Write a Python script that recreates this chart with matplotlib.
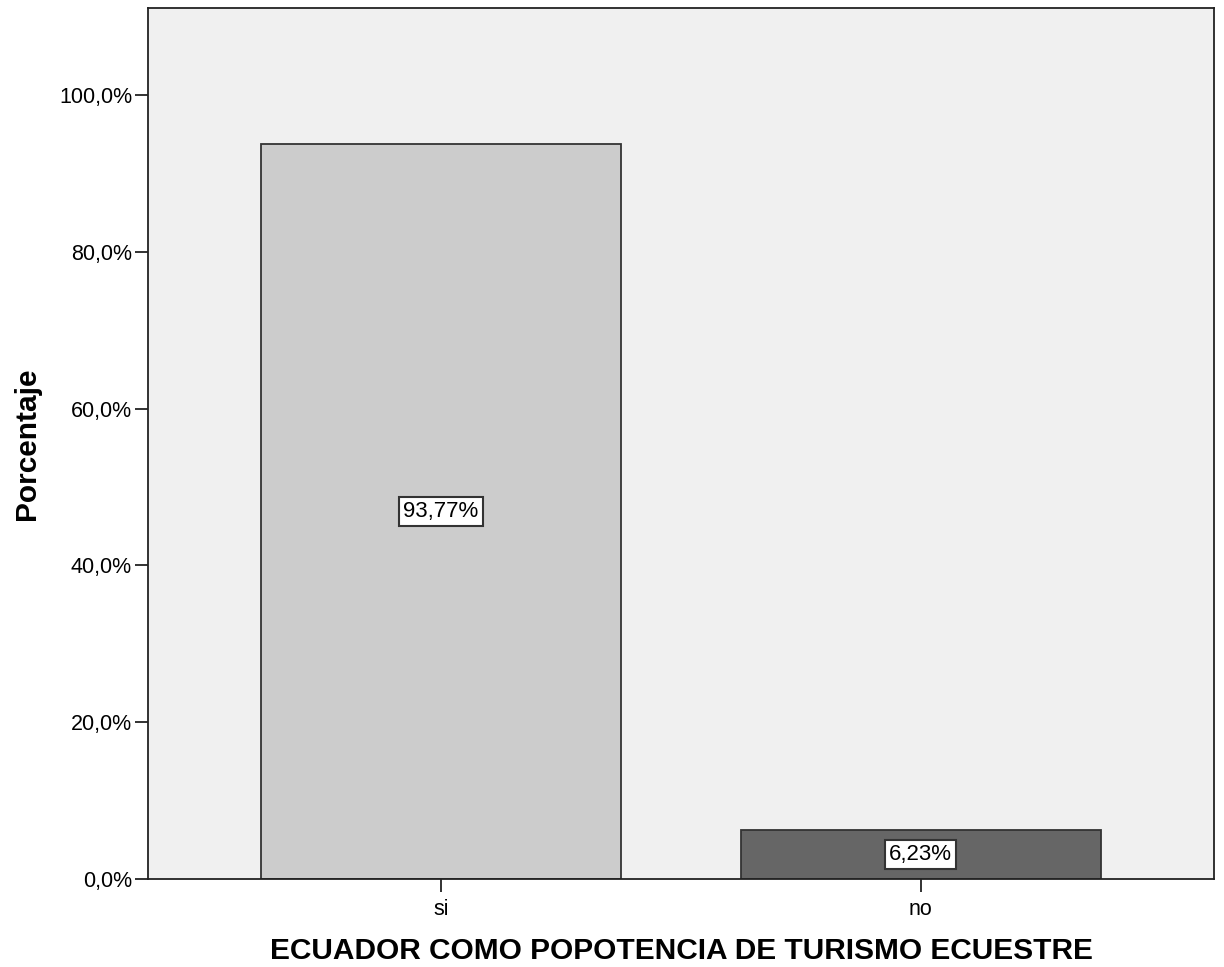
import matplotlib.pyplot as plt

plt.rcParams['font.family'] = ['Liberation Sans', 'DejaVu Sans']

# datos del grafico
categorias = ['si', 'no']
porcentajes = [93.77, 6.23]
etiquetas = ['93,77%', '6,23%']
colores = ['#cccccc', '#666666']
ticks_y = [0, 20, 40, 60, 80, 100]
ticks_y_txt = ['0,0%', '20,0%', '40,0%', '60,0%', '80,0%', '100,0%']

fig = plt.figure(figsize=(12.24, 9.67), dpi=100)
ax = fig.add_axes([0.1209, 0.0910, 0.8709, 0.9007])
ax.set_facecolor('#f0f0f0')

x = list(range(len(categorias)))
ax.bar(x, porcentajes, width=0.75, color=colores, edgecolor='#333333', linewidth=1.3)

# etiquetas dentro de las barras
for xi, val, txt in zip(x, porcentajes, etiquetas):
    ax.text(xi, val / 2, txt, ha='center', va='center', fontsize=16,
            bbox=dict(boxstyle='square,pad=0.18', facecolor='white', edgecolor='#333333', linewidth=1.5))

ax.set_xlim(-0.611, 1.611)
ax.set_ylim(0, 111.1)
ax.set_xticks(x)
ax.set_xticklabels(categorias, fontsize=15.5)
ax.set_yticks(ticks_y)
ax.set_yticklabels(ticks_y_txt, fontsize=15.5)
ax.tick_params(direction='out', length=9.5, width=1.3, color='#222222', pad=2)
ax.tick_params(axis='x', pad=5)

for s in ax.spines.values():
    s.set_color('#222222')
    s.set_linewidth(1.3)

ax.set_ylabel('Porcentaje', fontsize=21.5, fontweight='bold', labelpad=13)
ax.set_xlabel('ECUADOR COMO POPOTENCIA DE TURISMO ECUESTRE', fontsize=21.5, fontweight='bold', labelpad=12)

fig.savefig('out.png', dpi=100)
